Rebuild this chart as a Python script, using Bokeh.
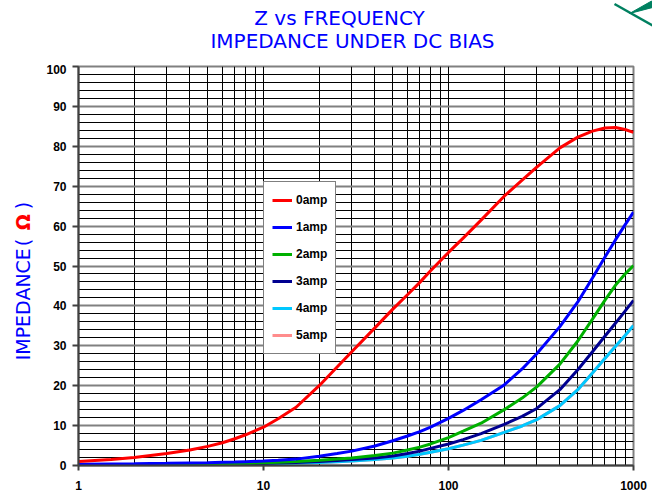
import math
from bokeh.plotting import figure
from bokeh.layouts import column, row
from bokeh.models import Legend, FixedTicker, SingleIntervalTicker
from bokeh.core.properties import value
from bokeh.embed import file_html
from bokeh.resources import INLINE

# ---- data ----
freq = [1, 1.5, 2, 3, 4, 5, 6, 7, 8, 10, 12, 15, 20, 25, 30, 40, 50, 60, 70, 80,
        100, 120, 150, 200, 250, 300, 400, 500, 600, 700, 800, 900, 1000]
z_0amp = [1.0, 1.5, 2.0, 3.0, 3.9, 4.8, 5.7, 6.7, 7.7, 9.6, 11.7, 14.6, 20.0, 24.7, 28.5, 34.5, 39.2, 42.8, 45.9, 48.8,
          53.4, 57.0, 61.5, 67.5, 71.5, 74.8, 79.6, 82.3, 83.8, 84.6, 84.7, 84.2, 83.5]
z_1amp = [0.3, 0.4, 0.45, 0.55, 0.65, 0.7, 0.8, 0.85, 0.95, 1.1, 1.3, 1.6, 2.3, 3.0, 3.6, 4.9, 6.2, 7.4, 8.5, 9.6,
          11.8, 13.8, 16.5, 20.2, 24.2, 28.0, 34.8, 41.0, 47.0, 52.2, 56.6, 60.3, 63.5]
z_2amp = [0.15, 0.2, 0.25, 0.3, 0.35, 0.4, 0.45, 0.5, 0.55, 0.7, 0.8, 1.0, 1.3, 1.6, 1.9, 2.5, 3.1, 3.9, 4.6, 5.4,
          7.0, 8.6, 10.6, 14.0, 16.9, 19.7, 25.4, 31.2, 36.7, 41.4, 45.2, 48.0, 50.1]
z_3amp = [0.1, 0.12, 0.15, 0.2, 0.25, 0.3, 0.35, 0.4, 0.45, 0.5, 0.6, 0.75, 1.0, 1.25, 1.5, 1.9, 2.4, 3.0, 3.6, 4.3,
          5.4, 6.5, 8.0, 10.3, 12.3, 14.3, 19.0, 24.0, 28.5, 32.4, 35.7, 38.7, 41.4]
z_4amp = [0.05, 0.07, 0.1, 0.15, 0.18, 0.2, 0.25, 0.3, 0.33, 0.4, 0.47, 0.55, 0.75, 0.92, 1.1, 1.5, 1.9, 2.3, 2.8, 3.3,
          4.2, 5.1, 6.3, 8.3, 9.9, 11.5, 15.0, 19.0, 23.2, 26.8, 29.9, 32.6, 35.1]
z_5amp = [0.05, 0.07, 0.1, 0.15, 0.18, 0.2, 0.25, 0.3, 0.33, 0.4, 0.47, 0.55, 0.75, 0.92, 1.1, 1.5, 1.9, 2.3, 2.8, 3.3,
          4.2, 5.1, 6.3, 8.3, 9.9, 11.5, 15.0, 19.0, 23.2, 26.8, 29.9, 32.6, 35.1]

series_names = ["0amp", "1amp", "2amp", "3amp", "4amp", "5amp"]
series_vals = [z_0amp, z_1amp, z_2amp, z_3amp, z_4amp, z_5amp]
series_colors = ["#FF0000", "#0000FF", "#00B000", "#000090", "#00C8FF", "#FF8C8C"]

x_ticks = [1, 10, 100, 1000]
x_minor = [m * d for d in (1, 10, 100) for m in range(2, 10)]
title1 = "Z vs FREQUENCY"
title2 = "IMPEDANCE UNDER DC BIAS"
ylabel_parts = ["IMPEDANCE", "(", "Ω", ")"]

W, H = 652, 497
TOP_H = 64
LEFT_W = 38
FONT = "DejaVu Sans"


def blank(width, height, x0, x1, y0, y1):
    f = figure(width=width, height=height, x_range=(x0, x1), y_range=(y0, y1),
               output_backend="svg", toolbar_location=None,
               x_axis_location=None, y_axis_location=None, min_border=0)
    f.grid.visible = False
    f.outline_line_color = None
    f.background_fill_color = "white"
    f.border_fill_color = "white"
    return f


# ---- title strip (data coords: x = pixel x, y = H - pixel y) ----
top = blank(W, TOP_H, 0, W, H - TOP_H, H)
top.text(x=[339], y=[H - 17], text=[title1], text_font=value(FONT), text_font_size="20px",
         text_color="#0000FF", text_align="center", text_baseline="middle")
top.text(x=[352], y=[H - 40], text=[title2], text_font=value(FONT), text_font_size="20px",
         text_color="#0000FF", text_align="center", text_baseline="middle")
# logo fragment top right
top.patch(x=[629, 652, 652], y=[H - 13, H - 0, H - 7], fill_color="#008060", line_color="#008060")
top.line(x=[614, 652], y=[H - 3.5, H - 25], line_color="#008060", line_width=2.5)

# ---- y axis title strip ----
left = blank(LEFT_W, H - TOP_H, 0, LEFT_W, 0, H - TOP_H)
left.text(x=[22], y=[H - 322], text=[ylabel_parts[0]], angle=math.pi / 2, text_font=value(FONT),
          text_font_size="19px", text_color="#0000FF", text_align="center", text_baseline="middle")
left.text(x=[22], y=[H - 255], text=[ylabel_parts[1]], angle=math.pi / 2, text_font=value(FONT),
          text_font_size="19px", text_color="#0000FF", text_align="center", text_baseline="middle")
left.text(x=[22], y=[H - 233], text=[ylabel_parts[2]], angle=math.pi / 2, text_font=value(FONT),
          text_font_size="19px", text_font_style="bold", text_color="#FF0000",
          text_align="center", text_baseline="middle")
left.text(x=[22], y=[H - 215], text=[ylabel_parts[3]], angle=math.pi / 2, text_font=value(FONT),
          text_font_size="19px", text_color="#0000FF", text_align="center", text_baseline="middle")

# ---- main chart ----
p = figure(width=W - LEFT_W, height=H - TOP_H, x_axis_type="log", x_range=(1, 1000), y_range=(0, 100),
           output_backend="svg", toolbar_location=None,
           min_border_left=40, min_border_right=19, min_border_top=2, min_border_bottom=32)
p.background_fill_color = "white"
p.border_fill_color = "white"
p.outline_line_color = "#808080"
p.outline_line_width = 2

p.xaxis.ticker = FixedTicker(ticks=x_ticks, minor_ticks=x_minor)
p.xaxis.major_label_overrides = {t: str(t) for t in x_ticks}
p.yaxis.ticker = SingleIntervalTicker(interval=10, num_minor_ticks=5)
for ax in (p.xaxis, p.yaxis):
    ax.major_label_text_font = "Liberation Sans"
    ax.major_label_text_font_style = "bold"
    ax.major_label_text_font_size = "12px"
    ax.major_label_text_color = "black"
    ax.axis_line_color = "#404040"
    ax.axis_line_width = 2
    ax.major_tick_line_color = "#404040"
    ax.major_tick_line_width = 2
    ax.minor_tick_out = 0
    ax.minor_tick_in = 0
    ax.major_tick_in = 0
p.xaxis.major_tick_out = 5
p.xaxis.major_label_standoff = 10
p.yaxis.major_tick_out = 6
p.yaxis.major_label_standoff = 6

p.xgrid.grid_line_color = "black"
p.xgrid.grid_line_width = 1
p.xgrid.minor_grid_line_color = "black"
p.xgrid.minor_grid_line_width = 1
p.ygrid.grid_line_color = "#808080"
p.ygrid.grid_line_width = 2
p.ygrid.minor_grid_line_color = "black"
p.ygrid.minor_grid_line_width = 1

renderers = {}
for name, vals, col in reversed(list(zip(series_names, series_vals, series_colors))):
    renderers[name] = p.line(freq, vals, line_color=col, line_width=3)

legend = Legend(items=[(n, [renderers[n]]) for n in series_names], location=(185, 111))
legend.label_text_font = "Liberation Sans"
legend.label_text_font_style = "bold"
legend.label_text_font_size = "12px"
legend.label_text_color = "black"
legend.border_line_color = "black"
legend.border_line_width = 1
legend.background_fill_color = "white"
legend.background_fill_alpha = 1
legend.glyph_width = 20
legend.glyph_height = 20
legend.label_height = 20
legend.spacing = 7
legend.padding = 8
legend.margin = 0
legend.label_standoff = 4
p.add_layout(legend, "center")

layout = column(top, row(left, p, spacing=0), spacing=0)
open("out.html", "w").write(file_html(layout, INLINE))
